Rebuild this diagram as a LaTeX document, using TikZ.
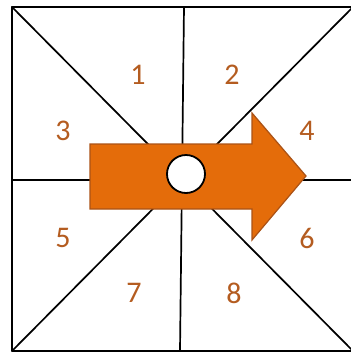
\documentclass[tikz,border=0pt]{standalone}
\usepackage{fontspec}
\setmainfont{Carlito}
\usetikzlibrary{calc}
\definecolor{arroworange}{RGB}{228,108,10}
\definecolor{arrowedge}{RGB}{170,82,22}
\definecolor{numbrown}{RGB}{180,92,32}

\begin{document}
\begin{tikzpicture}[x=1pt, y=-1pt, line join=round, line cap=round, font=\fontsize{30}{30}\selectfont]
			\useasboundingbox (0,0) rectangle (351,354);
			\foreach \x\y\t in {12/7/TL,353/7/TR,12/351/BL,353/351/BR,184/7/T,180/351/B,12/180/L,353/180/R}
			\coordinate (\t) at (\x,\y);
			\draw[line width=1.7pt] (TL)--(BR) (TR)--(BL) (T)--(B) (L)--(R);
			\draw[line width=2.6pt, line cap=butt] (TR)--(TL)--(BL)--(BR);
			% arrow
			\foreach \x\y\t in {90/144/A1,252/144/A2,252/113/A3,306/176/A4,252/240/A5,252/209/A6,90/209/A7}
			\coordinate (\t) at (\x,\y);
			\draw[arrowedge, fill=arroworange, line width=1.2pt, line join=miter]
			(A1)--(A2)--(A3)--(A4)--(A5)--(A6)--(A7)--cycle;
			\draw[line width=1.8pt, fill=white] (186,174) circle (19pt);
			\foreach \x\y\t in {138/75/1,232/75/2,63/131/3,307/131/4,63/238/5,307/238/6,134/293/7,234/293/8}
			\node[numbrown] (n\t) at (\x,\y) {\t};
		\end{tikzpicture}
\end{document}
